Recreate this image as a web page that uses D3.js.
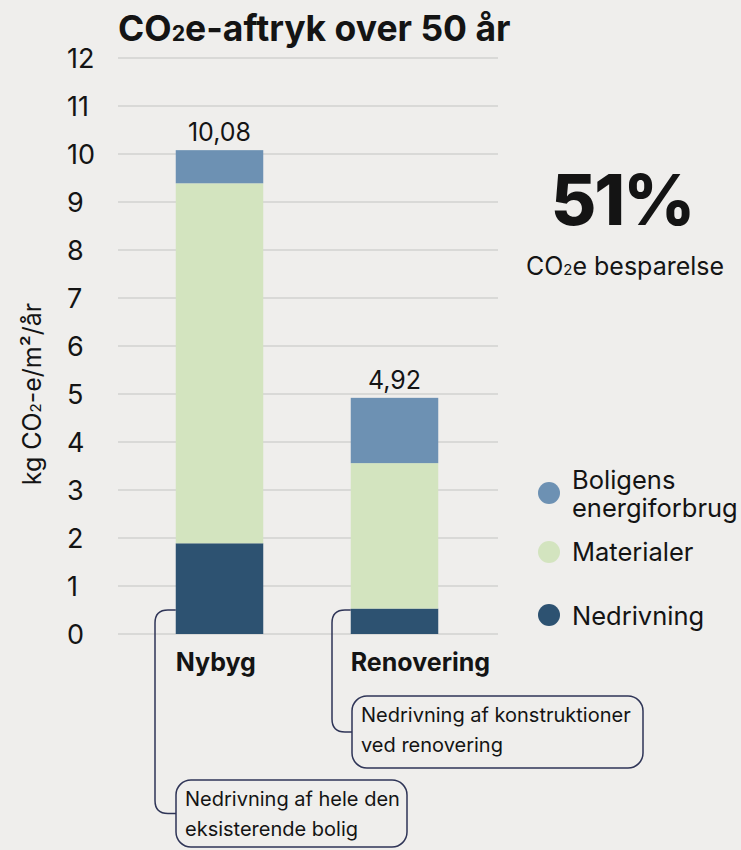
<!DOCTYPE html>
<html>
<head>
<meta charset="utf-8">
<script src="https://cdn.jsdelivr.net/npm/d3@7"></script>
<style>
  html, body { margin: 0; padding: 0; background: #efeeec; }
  svg { display: block; font-family: Inter, "Noto Sans", sans-serif; }
</style>
</head>
<body>
<svg id="chart" width="741" height="850"></svg>
<script>
// Categories and stacked components (kg CO2e per m² per year)
const categories = ["Nybyg", "Renovering"];
const nedrivning = [1.89, 0.53];
const materialer = [7.50, 3.03];
const energi = [0.69, 1.36];
const totals = ["10,08", "4,92"];
const yTicks = [0, 1, 2, 3, 4, 5, 6, 7, 8, 9, 10, 11, 12];
const seriesNames = ["Nedrivning", "Materialer", "Boligens energiforbrug"];
const seriesColors = ["#2d5271", "#d3e4bf", "#6d91b3"];
const notes = [
  ["Nedrivning af hele den", "eksisterende bolig"],
  ["Nedrivning af konstruktioner", "ved renovering"]
];

const svg = d3.select("#chart");
const ink = "#141414";

const y = d3.scaleLinear().domain([0, 12]).range([634, 58]);
const x = d3.scaleBand().domain(categories).range([132, 482]).paddingInner(0.5).paddingOuter(0.25);

// Writes "CO" + small subscript 2 + rest into a text element
function co2(sel, before, after, size) {
  sel.append("tspan").text(before + "CO");
  sel.append("tspan").attr("font-size", size * 0.6).text("2");
  sel.append("tspan").text(after);
}

// Title
const title = svg.append("text").attr("x", 118).attr("y", 41)
  .attr("font-size", 35.5).attr("font-weight", 700).attr("fill", ink);
co2(title, "", "e-aftryk over 50 år", 35.5);

// Gridlines
svg.append("g").selectAll("line").data(yTicks).join("line")
  .attr("x1", 118).attr("x2", 498)
  .attr("y1", d => y(d)).attr("y2", d => y(d))
  .attr("stroke", "#c4c3c1").attr("stroke-width", 1.2);

// Y tick labels
svg.append("g").selectAll("text").data(yTicks).join("text")
  .attr("x", 67).attr("y", d => y(d)).attr("dy", "0.36em")
  .attr("font-size", 27).attr("fill", ink)
  .text(d => d);

// Y axis title
const yTitle = svg.append("text")
  .attr("transform", `translate(41, ${y(5)}) rotate(-90)`)
  .attr("text-anchor", "middle").attr("font-size", 25).attr("fill", ink);
co2(yTitle, "kg ", "-e/m²/år", 25);

// Stacked bars
const rows = categories.map((c, i) => ({
  cat: c, Nedrivning: nedrivning[i], Materialer: materialer[i], "Boligens energiforbrug": energi[i]
}));
const stacked = d3.stack().keys(seriesNames)(rows);
svg.append("g").selectAll("g").data(stacked).join("g")
  .attr("fill", (d, i) => seriesColors[i])
  .selectAll("rect").data(d => d).join("rect")
  .attr("x", d => x(d.data.cat))
  .attr("width", x.bandwidth())
  .attr("y", d => y(d[1]))
  .attr("height", d => y(d[0]) - y(d[1]));

// Totals above bars
const sums = rows.map(r => r.Nedrivning + r.Materialer + r["Boligens energiforbrug"]);
svg.append("g").selectAll("text").data(categories).join("text")
  .attr("x", d => x(d) + x.bandwidth() / 2)
  .attr("y", (d, i) => y(sums[i]) - 9)
  .attr("text-anchor", "middle").attr("font-size", 25).attr("fill", ink)
  .text((d, i) => totals[i]);

// Category labels
svg.append("g").selectAll("text").data(categories).join("text")
  .attr("x", d => x(d)).attr("y", 671)
  .attr("font-size", 25).attr("font-weight", 700).attr("fill", ink)
  .text(d => d);

// Savings highlight
svg.append("text").attr("x", 622).attr("y", 225)
  .attr("text-anchor", "middle").attr("font-size", 70).attr("font-weight", 800)
  .attr("fill", ink).attr("letter-spacing", -2).text("51%");
const sav = svg.append("text").attr("x", 625).attr("y", 275)
  .attr("text-anchor", "middle").attr("font-size", 25).attr("fill", ink);
co2(sav, "", "e besparelse", 25);

// Legend
const legend = [
  { name: "Boligens", name2: "energiforbrug", color: seriesColors[2], cy: 493, ty: 489 },
  { name: "Materialer", color: seriesColors[1], cy: 552, ty: 561 },
  { name: "Nedrivning", color: seriesColors[0], cy: 615, ty: 625 }
];
const lg = svg.append("g");
legend.forEach(l => {
  lg.append("circle").attr("cx", 549).attr("cy", l.cy).attr("r", 11).attr("fill", l.color);
  const t = lg.append("text").attr("x", 572).attr("y", l.ty).attr("font-size", 25.5).attr("fill", ink);
  t.append("tspan").attr("x", 572).text(l.name);
  if (l.name2) t.append("tspan").attr("x", 572).attr("dy", 28).text(l.name2);
});

// Callouts for the demolition segments
const navy = "#2f3557";
const boxes = [
  { x0: 176, x1: 407, y0: 780, y1: 847, lx: 155 },
  { x0: 352, x1: 643, y0: 696, y1: 768, lx: 332 }
];
const r = 13;
boxes.forEach((b, i) => {
  const barX = x(categories[i]);
  const yTop = y(0.5);
  const yBot = (b.y0 + b.y1) / 2;
  svg.append("path")
    .attr("d", `M${barX},${yTop} H${b.lx + r} Q${b.lx},${yTop} ${b.lx},${yTop + r} V${yBot - r} Q${b.lx},${yBot} ${b.lx + r},${yBot} H${b.x0}`)
    .attr("fill", "none").attr("stroke", navy).attr("stroke-width", 1.5);
  svg.append("rect")
    .attr("x", b.x0).attr("y", b.y0).attr("width", b.x1 - b.x0).attr("height", b.y1 - b.y0)
    .attr("rx", 15).attr("fill", "#efeeec").attr("stroke", navy).attr("stroke-width", 1.5);
  svg.append("text").attr("x", b.x0 + 9).attr("y", b.y0 + 26)
    .attr("font-size", 20).attr("fill", ink).text(notes[i][0]);
  svg.append("text").attr("x", b.x0 + 9).attr("y", b.y0 + 56)
    .attr("font-size", 20).attr("fill", ink).text(notes[i][1]);
});
</script>
</body>
</html>
